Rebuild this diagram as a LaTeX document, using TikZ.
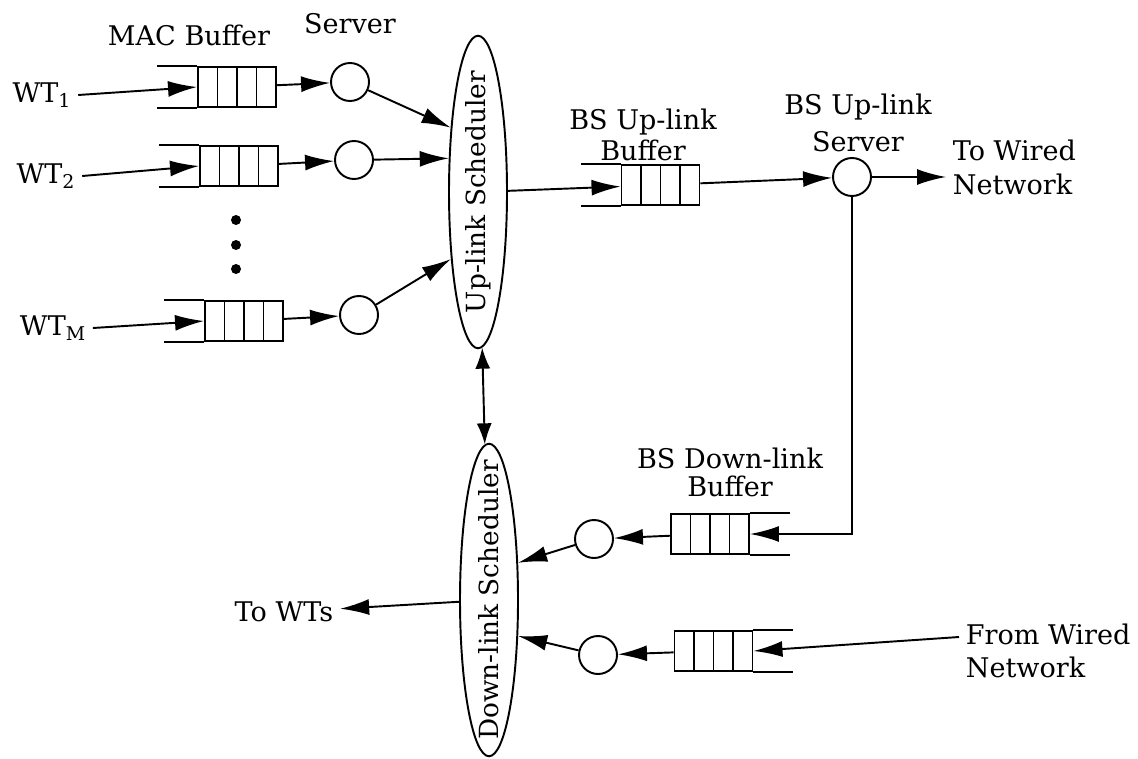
\documentclass[tikz,border=0pt]{standalone}
\usepackage{fontspec}
\setmainfont{DejaVu Serif}
\usepackage{tikz}
\usetikzlibrary{shapes.geometric, arrows.meta}

\begin{document}
\begin{tikzpicture}[>={Latex[length=0.58cm,width=0.32cm]}, line width=1.1pt,
  font=\fontsize{15.4}{16}\selectfont,
  buf/.style={draw, minimum width=1.56cm, minimum height=0.8cm, inner sep=0,
    path picture={\foreach \k in {1,2,3}
      \draw ([xshift=\k*0.39cm]path picture bounding box.south west) -- ([xshift=\k*0.39cm]path picture bounding box.north west);}},
  srv/.style={draw, circle, minimum size=0.76cm, inner sep=0},
  sched/.style={draw, ellipse, minimum width=1.16cm, minimum height=6.25cm, inner sep=0},
  schedtext/.style={rotate=90, font=\fontsize{15}{16}\selectfont}]
\useasboundingbox (0,0) rectangle (22.76,-15.16);

% wireless terminals and their MAC queues
\node (mac) at (3.78,-0.7) {MAC Buffer};
\node (srvlbl) at (7.0,-0.48) {Server};
\node (wt1) at (0.84,-1.9) {WT\textsubscript{1}};
\node (wt2) at (0.92,-3.52) {WT\textsubscript{2}};
\node (wtM) at (1.06,-6.56) {WT\textsubscript{M}};
\node[buf] (q1) at (4.74,-1.74) {};
\node[buf] (q2) at (4.78,-3.32) {};
\node[buf] (qM) at (4.88,-6.42) {};
\node[srv] (s1) at (7.0,-1.64) {};
\node[srv] (s2) at (7.08,-3.2) {};
\node[srv] (sM) at (7.18,-6.3) {};
\foreach \yy in {4.4,4.9,5.38} \fill (4.72,-\yy) circle (0.1);

% schedulers
\node[sched, label={[schedtext]center:Up-link Scheduler}] (up) at (9.56,-3.84) {};
\node[sched, label={[schedtext]center:Down-link Scheduler}] (down) at (9.78,-12.0) {};

% base station up-link
\node[align=center] (qUlbl) at (12.86,-2.7) {BS Up-link\\[2pt]Buffer};
\node[buf] (qU) at (13.21,-3.7) {};
\node[align=center] (sUlbl) at (17.16,-2.45) {BS Up-link\\[5pt]Server};
\node[srv] (sU) at (17.04,-3.54) {};
\node[align=left, anchor=west] (toWired) at (18.92,-3.35) {To Wired\\[3pt]Network};

% base station down-link
\node[align=center] (qDlbl) at (14.6,-9.44) {BS Down-link\\Buffer};
\node[buf] (qD1) at (14.2,-10.68) {};
\node[buf] (qD2) at (14.27,-13.02) {};
\node[srv] (sD1) at (11.88,-10.78) {};
\node[srv] (sD2) at (11.96,-13.1) {};
\node[align=left, anchor=west] (fromWired) at (19.18,-13.02) {From Wired\\[3pt]Network};
\node (toWTs) at (5.68,-12.24) {To WTs};

% open ends of the queues
\foreach \q in {q1,q2,qM,qU} \draw (\q.north west) -- ++(-0.8,0) (\q.south west) -- ++(-0.8,0);
\foreach \q in {qD1,qD2} \draw (\q.north east) -- ++(0.8,0) (\q.south east) -- ++(0.8,0);

\draw[->] (wt1.east) -- (q1.west);
\draw[->] (wt2.east) -- (q2.west);
\draw[->] (wtM.east) -- (qM.west);
\draw[->] (q1) -- (s1);
\draw[->] (q2) -- (s2);
\draw[->] (qM) -- (sM);
\draw[->] (s1) -- (up.113);
\draw[->] (s2) -- (up.131);
\draw[->] (sM) -- (up.248);
\draw[->] (up) -- (qU);
\draw[->] (qU) -- (sU);
\draw[->] (sU) -- (sU -| toWired.west);
\draw[->] (sU) |- (qD1);
\draw[->] (qD1) -- (sD1);
\draw[->] (sD1) -- (down.52);
\draw[->] ([yshift=0.28cm]fromWired.west) -- (qD2.east);
\draw[->] (qD2) -- (sD2);
\draw[->] (sD2) -- (down.309);
\draw[->] (down) -- (toWTs);
\draw[{Latex[length=0.42cm,width=0.3cm]}-{Latex[length=0.42cm,width=0.3cm]}] (up) -- (down);
\end{tikzpicture}
\end{document}
